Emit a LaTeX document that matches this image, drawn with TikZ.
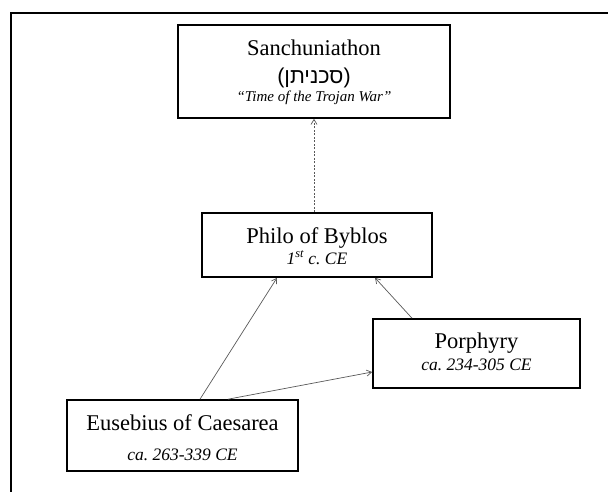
\documentclass[tikz,border=0pt]{standalone}
\usepackage{fontspec}
\setmainfont{Liberation Serif}
\newfontfamily\hebfont[Script=Hebrew]{Liberation Sans}
\newfontfamily\parenfont{Liberation Sans}
\TeXXeTstate=1
\frenchspacing
\usetikzlibrary{arrows.meta}
\begin{document}
\begin{tikzpicture}[x=1pt,y=-1pt,
  box/.style={draw=black,line width=1.6pt,rectangle,inner sep=0pt},
  titletext/.style={anchor=base,inner sep=0pt,font=\fontsize{22.5}{24}\selectfont},
  subtext/.style={anchor=base,inner sep=0pt,font=\fontsize{17.5}{19}\selectfont\itshape},
  conn/.style={draw=black!65,line width=0.7pt,-{Straight Barb[length=5pt,width=6pt]}},
  dotconn/.style={conn,dash pattern=on 2pt off 1.5pt}]
\useasboundingbox (0,0) rectangle (608,491);
\draw[line width=1.8pt] (11,493) -- (11,13) -- (610,13);
% boxes
\node[box,minimum width=272pt,minimum height=93pt] (sanch) at (314,71.5) {};
\node[box,minimum width=230pt,minimum height=64pt] (philo) at (317,245) {};
\node[box,minimum width=207pt,minimum height=69pt] (porph) at (476.5,353.5) {};
\node[box,minimum width=231pt,minimum height=71pt] (euseb) at (182.5,435.5) {};
% texts
\node[titletext] (sanchT) at (314,55) {Sanchuniathon};
\node[titletext,font=\fontsize{21.5}{24}\parenfont] (sanchH) at (314,83) {({\hebfont\beginR סכניתן\endR})};
\node[subtext,font=\fontsize{15}{17}\selectfont\itshape] (sanchS) at (314,101.5) {“Time of the Trojan War”};
\node[titletext] (philoT) at (317,243) {Philo of Byblos};
\node[subtext] (philoS) at (317,264) {1\textsuperscript{st} c. CE};
\node[titletext] (porphT) at (476.5,348) {Porphyry};
\node[subtext] (porphS) at (476.5,370) {ca. 234-305 CE};
\node[titletext] (eusebT) at (182.5,430) {Eusebius of Caesarea};
\node[subtext] (eusebS) at (182.5,460) {ca. 263-339 CE};
% connectors
\draw[dotconn] (philo.north -| sanch.south) -- (sanch.south);
\draw[conn] ([xshift=17.5pt]euseb.north) -- ([xshift=-40pt]philo.south);
\draw[conn] ([xshift=45.5pt]euseb.north) -- ([yshift=-18.5pt]porph.west);
\draw[conn] ([xshift=-64.5pt]porph.north) -- ([xshift=58pt]philo.south);
\end{tikzpicture}
\end{document}
